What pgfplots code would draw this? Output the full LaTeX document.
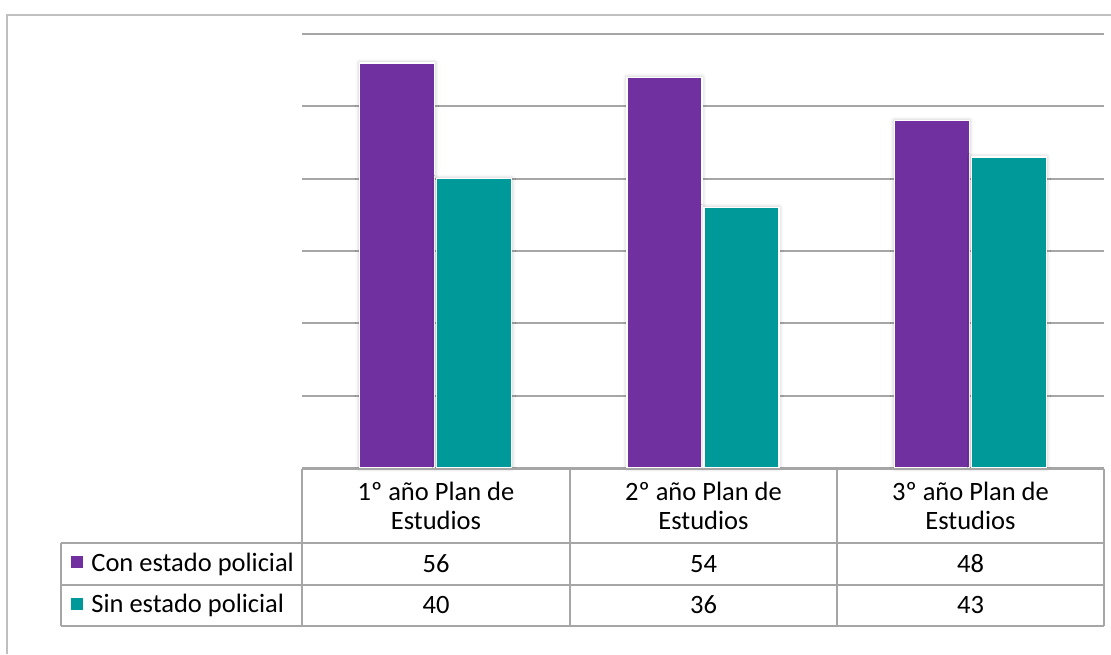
\documentclass[border=0pt]{standalone}
\usepackage{fontspec}
\setmainfont{Carlito}
\usepackage{pgfplots}
\pgfplotsset{compat=1.18}
\usetikzlibrary{shadows.blur}
\definecolor{conc}{HTML}{7030A0}
\definecolor{sinc}{HTML}{009999}
\definecolor{gridc}{HTML}{A6A6A6}
\definecolor{framec}{HTML}{BFBFBF}
\definecolor{tabc}{HTML}{A6A6A6}
\begin{document}
\begin{tikzpicture}[x=0.5pt,y=0.5pt,font=\fontsize{13.25pt}{14.5pt}\selectfont]
\useasboundingbox (0,0) rectangle (1111,654);
\draw[framec, line width=0.8pt] (7,0) -- (7,639) -- (1111,639);
\begin{axis}[
  at={(151pt,93pt)}, anchor=south west,
  scale only axis, width=401pt, height=217pt,
  ymin=0, ymax=60, xmin=0.5, xmax=3.5,
  ybar=1pt, bar width=37.5pt,
  axis line style={draw=none},
  ytick={0,10,...,60}, yticklabels={}, xtick=\empty,
  major tick length=0pt,
  ymajorgrids, grid style={gridc, line width=1pt},
  clip=false,
  every axis plot/.append style={draw=white, line width=0.6pt,
    blur shadow={shadow xshift=0pt, shadow yshift=0pt, shadow blur radius=2pt, shadow opacity=30}},
]
\addplot[fill=conc] coordinates {(1,56) (2,54) (3,48)};
\addplot[fill=sinc] coordinates {(1,40) (2,36) (3,43)};
\end{axis}
% data table
\begin{scope}[tabc, line width=0.9pt]
\draw (302,185) -- (1104,185);
\draw (61,111) -- (1104,111);
\draw (61,69) -- (1104,69);
\draw (61,28) -- (1104,28);
\draw (61,111) -- (61,28);
\foreach \x in {302,570,837,1104} \draw (\x,185) -- (\x,28);
\end{scope}
\foreach \x/\n in {436/1,703.5/2,970.5/3}
  \node[align=center, inner sep=0pt] at (\x,148) {\n º año Plan de\\Estudios};
\foreach \x/\a/\b in {436/56/40,703.5/54/36,970.5/48/43} {
  \node[inner sep=0pt] at (\x,90) {\a};
  \node[inner sep=0pt] at (\x,49) {\b};
}
\fill[conc] (71,86) rectangle (83,98);
\fill[sinc] (71,44) rectangle (83,56);
\node[anchor=west, inner sep=0pt] at (91,90) {Con estado policial};
\node[anchor=west, inner sep=0pt] at (91,49) {Sin estado policial};
\end{tikzpicture}
\end{document}
